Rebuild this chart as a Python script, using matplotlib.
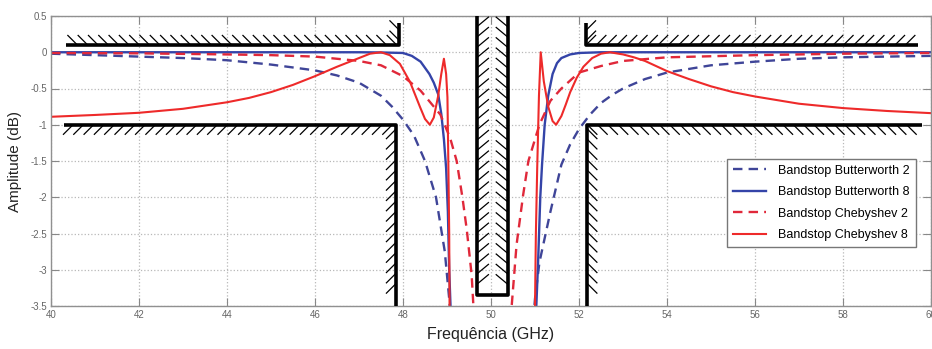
import numpy as np
import matplotlib
matplotlib.use("Agg")
import matplotlib.pyplot as plt
from matplotlib.collections import LineCollection

plt.rcParams['font.family'] = ['Liberation Sans', 'DejaVu Sans']

nan = np.nan

# ===== curve data, NaN splits the left / right branch =====
bw2_x = [40, 41, 42, 43, 44, 45, 46, 46.5, 47, 47.5, 47.75, 48, 48.25, 48.5, 48.75, 48.95, 49.05, 49.09,
         nan,
         50.96, 51.0, 51.1, 51.35, 51.6, 51.8, 52.0, 52.25, 52.5, 52.75, 53, 53.5, 54, 55, 56, 57, 58, 59, 60]
bw2_y = [-0.02, -0.04, -0.06, -0.08, -0.11, -0.17, -0.25, -0.32, -0.42, -0.6, -0.75, -0.93, -1.15, -1.5, -2.0, -2.75, -3.4, -3.7,
         nan,
         -3.7, -3.4, -2.9, -2.2, -1.55, -1.27, -1.06, -0.86, -0.7, -0.59, -0.5, -0.37, -0.28, -0.18, -0.13, -0.09, -0.07, -0.06, -0.05]

bw8_x = [40, 47, 47.5, 48, 48.2, 48.4, 48.6, 48.7, 48.8, 48.87, 48.93, 48.98, 49.02, 49.05, 49.08, 49.09,
         nan,
         51.02, 51.03, 51.07, 51.12, 51.16, 51.22, 51.3, 51.4, 51.5, 51.6, 51.8, 52.0, 52.5, 60]
bw8_y = [0, 0, -0.003, -0.01, -0.05, -0.13, -0.3, -0.42, -0.58, -0.85, -1.2, -1.6, -2.2, -3.0, -3.5, -3.7,
         nan,
         -3.7, -3.5, -2.9, -2.0, -1.55, -1.0, -0.6, -0.3, -0.15, -0.08, -0.03, -0.01, 0, 0]

ch2_x = [40, 42, 44, 45, 46, 46.5, 47, 47.5, 48, 48.4, 48.85, 49.07, 49.22, 49.35, 49.45, 49.56, 49.6, 49.62,
         nan,
         50.45, 50.47, 50.58, 50.73, 50.85, 51.1, 51.35, 51.6, 51.8, 52.0, 52.5, 53, 54, 56, 58, 60]
ch2_y = [-0.01, -0.015, -0.03, -0.04, -0.06, -0.09, -0.12, -0.18, -0.33, -0.53, -0.86, -1.18, -1.5, -2.0, -2.45, -3.07, -3.5, -3.7,
         nan,
         -3.7, -3.5, -2.66, -1.97, -1.5, -1.0, -0.67, -0.5, -0.39, -0.28, -0.19, -0.12, -0.07, -0.04, -0.02, -0.01]

ch8_x = [40, 41, 42, 43, 44, 44.5, 45, 45.5, 46, 46.5, 47, 47.25, 47.5, 47.7, 47.93, 48.16, 48.39, 48.5, 48.61, 48.7,
         48.8, 48.87, 48.93, 48.98, 49.01, 49.03, 49.05, 49.06,
         nan,
         50.99, 51.0, 51.02, 51.05, 51.09, 51.13, 51.2, 51.3, 51.4, 51.48, 51.6, 51.7, 51.8, 51.95, 52.1,
         52.3, 52.5, 52.7, 53.0, 53.25, 53.5, 54, 54.5, 55, 55.5, 56, 57, 58, 59, 60]
ch8_y = [-0.89, -0.865, -0.835, -0.78, -0.69, -0.63, -0.55, -0.45, -0.33, -0.2, -0.08, -0.02, 0.0, -0.04, -0.16, -0.41, -0.76, -0.92, -1.0, -0.9,
         -0.6, -0.3, -0.09, -0.3, -0.62, -1.5, -2.5, -3.7,
         nan,
         -3.7, -3.5, -2.5, -1.6, -0.6, 0.0, -0.4, -0.75, -0.95, -1.0, -0.88, -0.72, -0.55, -0.35, -0.2,
         -0.08, -0.02, 0.0, -0.03, -0.07, -0.12, -0.26, -0.37, -0.47, -0.55, -0.61, -0.71, -0.77, -0.81, -0.84]

labels = ['Bandstop Butterworth 2', 'Bandstop Butterworth 8',
          'Bandstop Chebyshev 2', 'Bandstop Chebyshev 8']

# ===== spec mask outline =====
ul_x = [40.35, 47.92, 47.92]
ul_y = [0.1, 0.1, 0.4]
ll_x = [40.3, 47.84, 47.84]
ll_y = [-1.0, -1.0, -3.6]
mid_x = [49.68, 49.68, 50.38, 50.38]
mid_y = [0.6, -3.35, -3.35, 0.6]
ur_x = [52.16, 52.16, 59.7]
ur_y = [0.4, 0.1, 0.1]
lr_x = [52.19, 52.19, 59.8]
lr_y = [-3.6, -1.0, -1.0]

xticks = np.arange(40, 61, 2)
yticks = [0.5, 0, -0.5, -1, -1.5, -2, -2.5, -3, -3.5]
ytick_labels = ['0.5', '0', '-0.5', '-1', '-1.5', '-2', '-2.5', '-3', '-3.5']

# ===== figure =====
W, H = 932, 349
fig = plt.figure(figsize=(W / 100, H / 100), dpi=100)
ax_l, ax_b, ax_w, ax_h = 51, 43, 880, 290
ax = fig.add_axes([ax_l / W, ax_b / H, ax_w / W, ax_h / H])
ax.set_xlim(40, 60)
ax.set_ylim(-3.5, 0.5)

px_x = ax_w / 20.0   # pixels per GHz
px_y = ax_h / 4.0    # pixels per dB

ax.grid(True, linestyle=':', color='#b8b8b8', linewidth=0.9)
ax.set_axisbelow(True)

dash = (0, (4, 2.6))
ax.plot(bw2_x, bw2_y, color='#3f4598', lw=1.7, ls=dash, label=labels[0])
ax.plot(bw8_x, bw8_y, color='#3444a8', lw=1.7, label=labels[1])
ax.plot(ch2_x, ch2_y, color='#e0283a', lw=1.7, ls=dash, label=labels[2])
ax.plot(ch8_x, ch8_y, color='#ee2a2a', lw=1.5, label=labels[3])

# mask lines
for mx, my in [(ul_x, ul_y), (ll_x, ll_y), (mid_x, mid_y), (ur_x, ur_y), (lr_x, lr_y)]:
    ax.plot(mx, my, color='black', lw=2.6, solid_capstyle='butt', zorder=4)


def hatch(x0, y0, x1, y1, dxp, dyp, step=10.3):
    # short slanted strokes along a mask edge, offsets given in pixels
    L = np.hypot((x1 - x0) * px_x, (y1 - y0) * px_y)
    t = np.arange(0, L + 0.01, step) / L
    segs = []
    for ti in t:
        xa = x0 + (x1 - x0) * ti
        ya = y0 + (y1 - y0) * ti
        segs.append([(xa, ya), (xa + dxp / px_x, ya + dyp / px_y)])
    ax.add_collection(LineCollection(segs, colors='black', linewidths=0.9, zorder=3))


hatch(40.6, 0.1, 47.92, 0.1, -10, 10)
hatch(47.92, 0.16, 47.92, 0.4, -10, 10)
hatch(40.5, -1.0, 47.84, -1.0, -10, -10)
hatch(47.84, -1.06, 47.84, -3.2, -10, -10)
hatch(49.68, -3.2, 49.68, 0.5, 12, 10)
hatch(50.38, -3.2, 50.38, 0.5, -12, 10)
hatch(52.16, 0.1, 59.5, 0.1, 10, 10)
hatch(52.16, 0.16, 52.16, 0.4, 10, 10)
hatch(52.19, -1.0, 59.6, -1.0, 10, -10)
hatch(52.19, -1.06, 52.19, -3.2, 10, -10)

# axes styling
ax.set_xticks(xticks)
ax.set_yticks(yticks)
ax.set_yticklabels(ytick_labels)
ax.tick_params(direction='in', length=6, width=0.8, color='#888888',
               labelcolor='#666666', labelsize=7, top=True, right=True, pad=3)
for s in ax.spines.values():
    s.set_color('#909090')
    s.set_linewidth(1.0)

ax.set_xlabel('Frequência (GHz)', fontsize=11.5, color='#222222', labelpad=5)
ax.set_ylabel('Amplitude (dB)', fontsize=11, color='#222222', labelpad=6)

leg = ax.legend(loc='upper right', bbox_to_anchor=(0.99, 0.53), fontsize=9,
                fancybox=False, framealpha=1, edgecolor='#777777',
                handlelength=2.6, labelspacing=0.75, borderpad=0.5, handletextpad=1.0)
leg.get_frame().set_linewidth(1.0)
leg.set_zorder(6)

fig.savefig('out.png', dpi=100)
